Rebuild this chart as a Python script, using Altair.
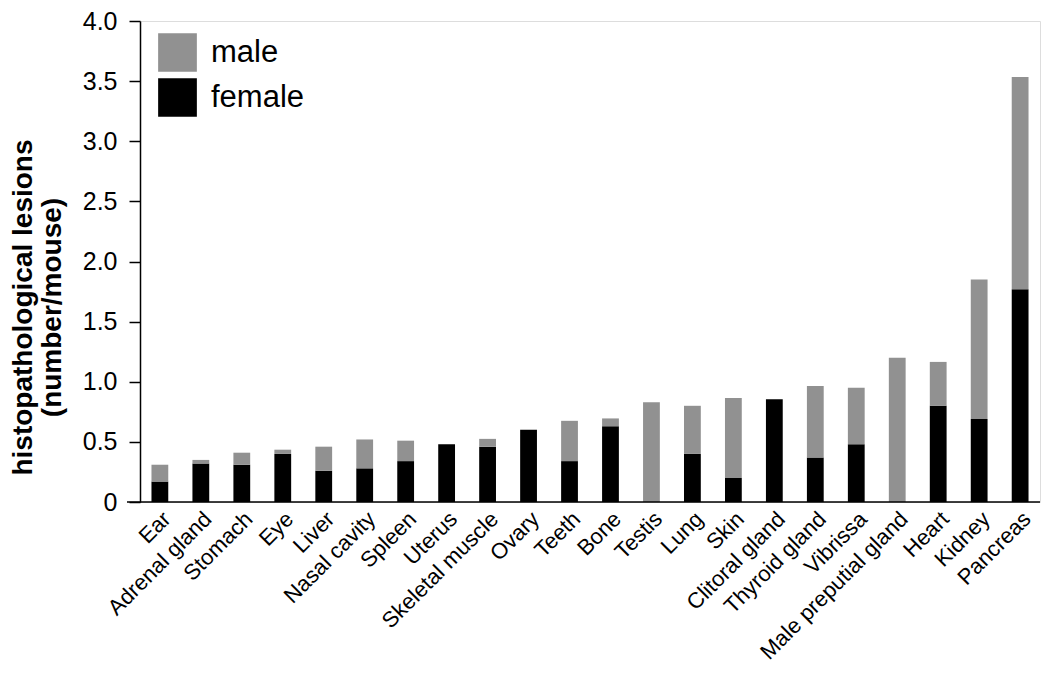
import altair as alt
import pandas as pd

organs = ["Ear", "Adrenal gland", "Stomach", "Eye", "Liver", "Nasal cavity", "Spleen",
          "Uterus", "Skeletal muscle", "Ovary", "Teeth", "Bone", "Testis", "Lung", "Skin",
          "Clitoral gland", "Thyroid gland", "Vibrissa", "Male preputial gland", "Heart",
          "Kidney", "Pancreas"]
female = [0.17, 0.32, 0.31, 0.40, 0.26, 0.28, 0.34, 0.48, 0.46, 0.60, 0.34, 0.63, 0.0,
          0.40, 0.20, 0.855, 0.37, 0.48, 0.0, 0.80, 0.69, 1.77]
male = [0.14, 0.03, 0.10, 0.035, 0.20, 0.24, 0.17, 0.0, 0.065, 0.0, 0.335, 0.065, 0.83,
        0.40, 0.665, 0.0, 0.595, 0.47, 1.20, 0.365, 1.16, 1.765]
sexes = ["male", "female"]
colors = ["#919191", "#000000"]
y_ticks = [0, 0.5, 1.0, 1.5, 2.0, 2.5, 3.0, 3.5, 4.0]

rows = []
for o, f, m in zip(organs, female, male):
    rows.append({"organ": o, "sex": "female", "value": f, "ord": 0})
    rows.append({"organ": o, "sex": "male", "value": m, "ord": 1})
df = pd.DataFrame(rows)

W, H = 900, 481
FONT = "Liberation Sans"

bars = alt.Chart(df).mark_bar().encode(
    x=alt.X("organ:N", sort=organs,
            scale=alt.Scale(paddingInner=0.59, paddingOuter=0.28),
            axis=alt.Axis(title=None, labelAngle=-45, domain=False, ticks=False,
                          labelPadding=6, labelFontSize=22, labelColor="black",
                          labelFont=FONT, labelLimit=0)),
    y=alt.Y("value:Q", stack="zero",
            scale=alt.Scale(domain=[0, 4], nice=False),
            axis=alt.Axis(values=y_ticks, grid=False, domainColor="black", domainWidth=1.5,
                          tickColor="black", tickWidth=1.5, tickSize=11, labelPadding=12,
                          labelFontSize=25, labelColor="black", labelFont=FONT,
                          labelExpr="datum.value == 0 ? '0' : format(datum.value, '.1f')",
                          title=["histopathological lesions", "(number/mouse)"],
                          titleFont=FONT, titleFontSize=28, titleFontWeight="bold",
                          titleColor="black", titleAngle=270, titleX=-131, titleY=286,
                          titleAlign="center", titleBaseline="top",
                          titleLineHeight=29)),
    color=alt.Color("sex:N", scale=alt.Scale(domain=sexes, range=colors),
                    legend=alt.Legend(title=None, orient="none", legendX=18, legendY=12,
                                      symbolType="square", symbolSize=1500,
                                      symbolStrokeWidth=0, symbolOpacity=1,
                                      labelFontSize=31, labelFont=FONT, labelColor="black",
                                      labelOffset=14, rowPadding=6, padding=0)),
    order=alt.Order("ord:Q"),
)

base = alt.Chart(pd.DataFrame({"v": [0]})).mark_rule(color="black", strokeWidth=1.5).encode(
    y=alt.Y("v:Q"), x=alt.value(-13), x2=alt.value(W)
)

chart = alt.layer(bars, base).properties(
    width=W, height=H,
    autosize=alt.AutoSizeParams(type="none"),
    padding={"left": 132, "top": 13, "right": 2, "bottom": 170},
).configure_view(stroke=None).configure(background="white")

chart.save("out.html", embed_options={"renderer": "svg", "actions": False})
